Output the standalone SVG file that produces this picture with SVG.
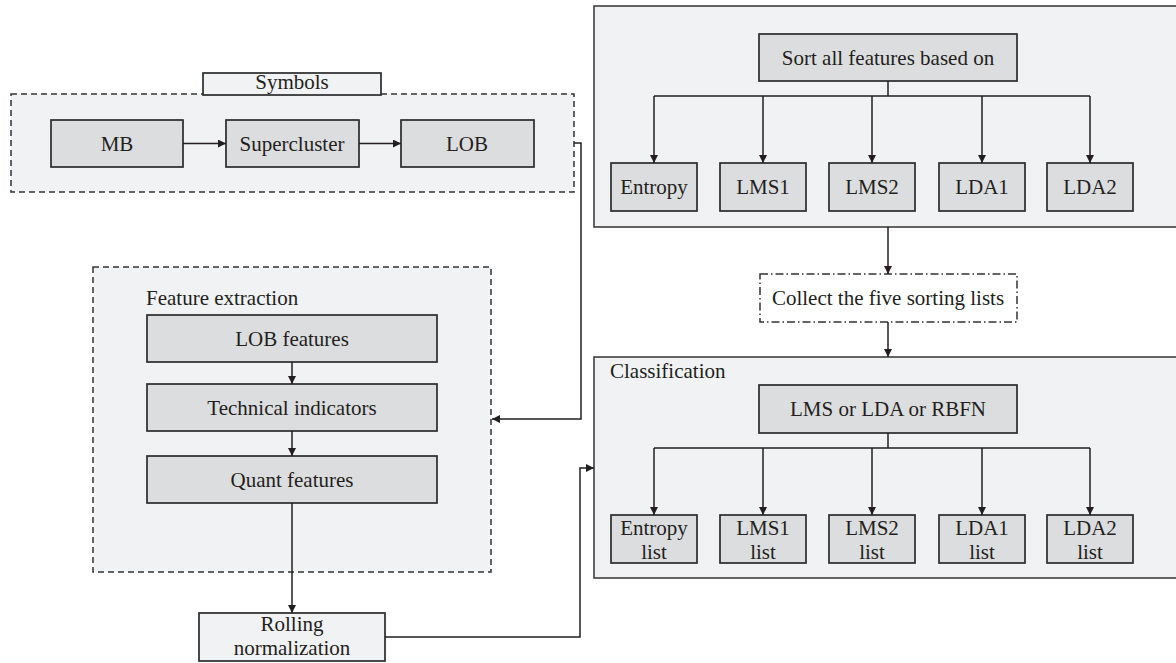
<svg xmlns="http://www.w3.org/2000/svg" width="1176" height="663" viewBox="0 0 1176 663" font-family="'Liberation Serif', 'Times New Roman', serif">
<defs>
<marker id="ah" viewBox="0 0 10 10" refX="10" refY="5" markerWidth="9" markerHeight="8" markerUnits="userSpaceOnUse" orient="auto">
<path d="M0,0 L10,5 L0,10 z" fill="#231f20"/>
</marker>
</defs>
<style>
text{font-family:'Liberation Serif','Times New Roman',serif;font-size:21px;fill:#231f20;text-anchor:middle}
.lbl{text-anchor:start}
.grp{fill:#f1f2f4;stroke:#333;stroke-width:1.5}
.dash{stroke-dasharray:6 4}
.node{fill:#dcdddf;stroke:#2b2b2b;stroke-width:1.7}
.light{fill:#f1f2f4;stroke:#2b2b2b;stroke-width:1.7}
.conn{fill:none;stroke:#231f20;stroke-width:1.5}
</style>
<rect width="1176" height="663" fill="#fff"/>

<g id="symbols">
<rect class="grp dash" x="11" y="94" width="563" height="98"/>
<rect class="light" x="203" y="73" width="178" height="22"/>
<text x="292" y="89">Symbols</text>
</g>
<g id="mb"><rect class="node" x="51" y="120" width="132" height="47"/><text x="117" y="151">MB</text></g>
<g id="supercluster"><rect class="node" x="226" y="120" width="133" height="47"/><text x="292" y="151">Supercluster</text></g>
<g id="lob"><rect class="node" x="401" y="120" width="133" height="47"/><text x="467" y="151">LOB</text></g>

<g id="feature-extraction">
<rect class="grp dash" x="93" y="267" width="398" height="305"/>
<text class="lbl" x="146" y="305">Feature extraction</text>
</g>
<g id="lob-features"><rect class="node" x="147" y="315" width="290" height="47"/><text x="292" y="346">LOB features</text></g>
<g id="technical-indicators"><rect class="node" x="147" y="384" width="290" height="47"/><text x="292" y="415">Technical indicators</text></g>
<g id="quant-features"><rect class="node" x="147" y="456" width="290" height="47"/><text x="292" y="487">Quant features</text></g>
<g id="rolling-normalization"><rect class="light" x="199" y="613" width="186" height="48"/><text x="292" y="631">Rolling</text><text x="292" y="655">normalization</text></g>

<g id="sorting">
<rect class="grp" x="594" y="6" width="590" height="221"/>
</g>
<g id="sort-all"><rect class="node" x="759" y="34" width="258" height="47"/><text x="888" y="65">Sort all features based on</text></g>
<g id="entropy"><rect class="node" x="611" y="163" width="86" height="48"/><text x="654" y="194">Entropy</text></g>
<g id="lms1"><rect class="node" x="720" y="163" width="86" height="48"/><text x="763" y="194">LMS1</text></g>
<g id="lms2"><rect class="node" x="829" y="163" width="86" height="48"/><text x="872" y="194">LMS2</text></g>
<g id="lda1"><rect class="node" x="939" y="163" width="86" height="48"/><text x="982" y="194">LDA1</text></g>
<g id="lda2"><rect class="node" x="1047" y="163" width="86" height="48"/><text x="1090" y="194">LDA2</text></g>

<g id="collect">
<rect x="760" y="274" width="257" height="48" fill="#fff" stroke="#333" stroke-width="1.5" stroke-dasharray="8 3 1.5 3"/>
<text x="888" y="305">Collect the five sorting lists</text>
</g>

<g id="classification">
<rect class="grp" x="594" y="357" width="590" height="221"/>
<text class="lbl" x="610" y="378">Classification</text>
</g>
<g id="lms-lda-rbfn"><rect class="node" x="759" y="385" width="258" height="48"/><text x="888" y="416">LMS or LDA or RBFN</text></g>
<g id="entropy-list"><rect class="node" x="611" y="515" width="86" height="48"/><text x="654" y="535">Entropy</text><text x="654" y="559">list</text></g>
<g id="lms1-list"><rect class="node" x="720" y="515" width="86" height="48"/><text x="763" y="535">LMS1</text><text x="763" y="559">list</text></g>
<g id="lms2-list"><rect class="node" x="829" y="515" width="86" height="48"/><text x="872" y="535">LMS2</text><text x="872" y="559">list</text></g>
<g id="lda1-list"><rect class="node" x="939" y="515" width="86" height="48"/><text x="982" y="535">LDA1</text><text x="982" y="559">list</text></g>
<g id="lda2-list"><rect class="node" x="1047" y="515" width="86" height="48"/><text x="1090" y="535">LDA2</text><text x="1090" y="559">list</text></g>

<g id="connectors">
<path class="conn" d="M183,143.5 H226" marker-end="url(#ah)"/>
<path class="conn" d="M359,143.5 H401" marker-end="url(#ah)"/>
<path class="conn" d="M574,143 H581 V419 H492" marker-end="url(#ah)"/>
<path class="conn" d="M292,362 V384" marker-end="url(#ah)"/>
<path class="conn" d="M292,431 V456" marker-end="url(#ah)"/>
<path class="conn" d="M292,503 V613" marker-end="url(#ah)"/>
<path class="conn" d="M385,637 H580 V468 H594" marker-end="url(#ah)"/>
<path class="conn" d="M888,81 V96 M654,96 H1090"/>
<path class="conn" d="M654,96 V163" marker-end="url(#ah)"/>
<path class="conn" d="M763,96 V163" marker-end="url(#ah)"/>
<path class="conn" d="M872,96 V163" marker-end="url(#ah)"/>
<path class="conn" d="M982,96 V163" marker-end="url(#ah)"/>
<path class="conn" d="M1090,96 V163" marker-end="url(#ah)"/>
<path class="conn" d="M888,227 V274" marker-end="url(#ah)"/>
<path class="conn" d="M888,322 V357" marker-end="url(#ah)"/>
<path class="conn" d="M888,433 V448 M654,448 H1090"/>
<path class="conn" d="M654,448 V515" marker-end="url(#ah)"/>
<path class="conn" d="M763,448 V515" marker-end="url(#ah)"/>
<path class="conn" d="M872,448 V515" marker-end="url(#ah)"/>
<path class="conn" d="M982,448 V515" marker-end="url(#ah)"/>
<path class="conn" d="M1090,448 V515" marker-end="url(#ah)"/>
</g>
</svg>
